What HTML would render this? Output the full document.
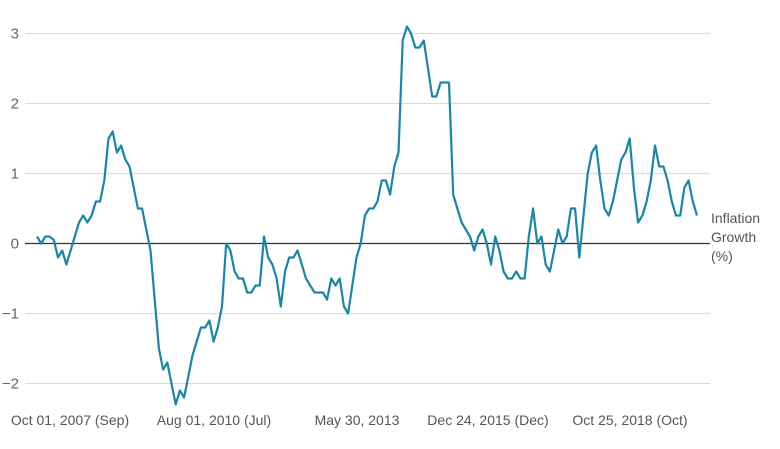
<!DOCTYPE html>
<html><head><meta charset="utf-8"><style>
body{margin:0;background:#fff;font-family:"Liberation Sans",sans-serif}
svg{display:block}
</style></head><body>
<svg id="chart" width="780" height="449" viewBox="0 0 780 449" xmlns="http://www.w3.org/2000/svg">
<g id="grid"></g>
<g id="ylabels"></g>
<g id="xlabels"></g>
<path id="line" fill="none" stroke="#1a86a8" stroke-width="2.2" stroke-linejoin="round"/>
<text font-size="14" fill="#555"><tspan x="711" y="223">Inflation</tspan><tspan x="711" y="242">Growth</tspan><tspan x="711" y="261">(%)</tspan></text>
</svg>
<script>
const yTicks=[-2,-1,0,1,2,3];
const xTickLabels=["Oct 01, 2007 (Sep)","Aug 01, 2010 (Jul)","May 30, 2013","Dec 24, 2015 (Dec)","Oct 25, 2018 (Oct)"];
const xTickIndex=[0,34,68,100,134];
const values=[0.1,0.0,0.1,0.1,0.05,-0.2,-0.1,-0.3,-0.1,0.1,0.3,0.4,0.3,0.4,0.6,0.6,0.9,1.5,1.6,1.3,1.4,1.2,1.1,0.8,0.5,0.5,0.2,-0.1,-0.8,-1.5,-1.8,-1.7,-2.0,-2.3,-2.1,-2.2,-1.9,-1.6,-1.4,-1.2,-1.2,-1.1,-1.4,-1.2,-0.9,0.0,-0.1,-0.4,-0.5,-0.5,-0.7,-0.7,-0.6,-0.6,0.1,-0.2,-0.3,-0.5,-0.9,-0.4,-0.2,-0.2,-0.1,-0.3,-0.5,-0.6,-0.7,-0.7,-0.7,-0.8,-0.5,-0.6,-0.5,-0.9,-1.0,-0.6,-0.2,0.0,0.4,0.5,0.5,0.6,0.9,0.9,0.7,1.1,1.3,2.9,3.1,3.0,2.8,2.8,2.9,2.5,2.1,2.1,2.3,2.3,2.3,0.7,0.5,0.3,0.2,0.1,-0.1,0.1,0.2,0.0,-0.3,0.1,-0.1,-0.4,-0.5,-0.5,-0.4,-0.5,-0.5,0.1,0.5,0.0,0.1,-0.3,-0.4,-0.1,0.2,0.0,0.1,0.5,0.5,-0.2,0.4,1.0,1.3,1.4,0.9,0.5,0.4,0.6,0.9,1.2,1.3,1.5,0.8,0.3,0.4,0.6,0.9,1.4,1.1,1.1,0.9,0.6,0.4,0.4,0.8,0.9,0.6,0.4];
const NS="http://www.w3.org/2000/svg";
const X0=37,X1=697;
function xs(i){return X0+(X1-X0)*i/(values.length-1);}
function ys(v){return 243.5-70*v;}
const grid=document.getElementById('grid'),yl=document.getElementById('ylabels'),xl=document.getElementById('xlabels');
yTicks.forEach(t=>{
 const l=document.createElementNS(NS,'line');
 
 
 l.setAttribute('x1',25);l.setAttribute('x2',710);l.setAttribute('y1',ys(t));l.setAttribute('y2',ys(t));
 l.setAttribute('stroke',t===0?'#333':'#dcdcdc');l.setAttribute('stroke-width',t===0?1.2:1.2);
 grid.appendChild(l);
 const tx=document.createElementNS(NS,'text');
 
 
 tx.setAttribute('x',19);tx.setAttribute('y',ys(t)+5);tx.setAttribute('text-anchor','end');
 tx.setAttribute('font-size','15');tx.setAttribute('fill','#666');
 tx.textContent=t<0?'\u2212'+Math.abs(t):String(t);
 yl.appendChild(tx);
});
const centers=[70,214,357,488,630];
xTickLabels.forEach((s,k)=>{
 const tx=document.createElementNS(NS,'text');
 
 
 tx.setAttribute('x',centers[k]);tx.setAttribute('y',425);tx.setAttribute('text-anchor','middle');
 tx.setAttribute('font-size','14');tx.setAttribute('fill','#555');
 tx.textContent=s;
 xl.appendChild(tx);
});
document.getElementById('line').setAttribute('d',values.map((v,i)=>(i?'L':'M')+xs(i).toFixed(1)+','+ys(v).toFixed(1)).join(''));
</script>
</body></html>
